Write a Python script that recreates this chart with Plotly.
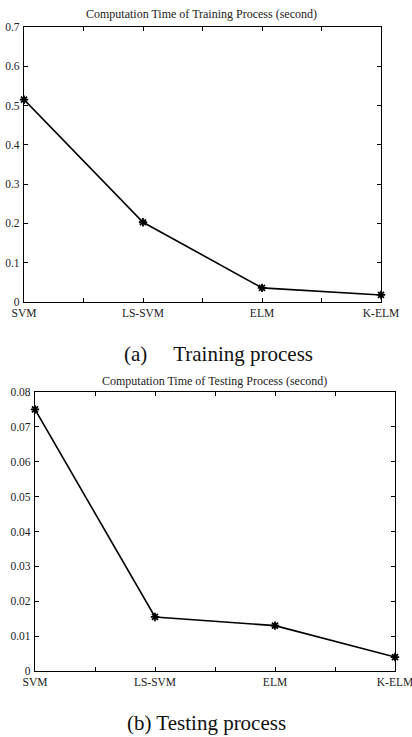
import plotly.graph_objects as go

methods = ["SVM", "LS-SVM", "ELM", "K-ELM"]
positions = [1, 2, 3, 4]
train_time = [0.515, 0.203, 0.036, 0.018]
test_time = [0.075, 0.0155, 0.013, 0.004]
train_yticks = [0, 0.1, 0.2, 0.3, 0.4, 0.5, 0.6, 0.7]
test_yticks = [0, 0.01, 0.02, 0.03, 0.04, 0.05, 0.06, 0.07, 0.08]

FONT = "Liberation Serif"
W, H = 412, 737

def px_dom_x(a, b):
    return [a / W, b / W]

def px_dom_y(top, bottom):
    return [1 - bottom / H, 1 - top / H]

fig = go.Figure()
line = dict(color="black", width=1.6)
marker = dict(symbol="asterisk-open", size=7, color="black", line=dict(color="black", width=1.8))

fig.add_trace(go.Scatter(x=positions, y=train_time, mode="lines+markers",
                         line=line, marker=marker, xaxis="x", yaxis="y", showlegend=False,
                         cliponaxis=False))
fig.add_trace(go.Scatter(x=positions, y=test_time, mode="lines+markers",
                         line=line, marker=marker, xaxis="x2", yaxis="y2", showlegend=False,
                         cliponaxis=False))

xcommon = dict(range=[1, 4], tickvals=[1, 1.5, 2, 2.5, 3, 3.5, 4],
               ticktext=["SVM", "", "LS-SVM", "", "ELM", "", "K-ELM"],
               ticks="inside", ticklen=4, tickcolor="black", showline=True,
               linecolor="black", linewidth=1.3, mirror="ticks", showgrid=False,
               zeroline=False, automargin=False, ticklabelstandoff=0,
               ticklabeloverflow="allow",
               tickfont=dict(family=FONT, size=11.5, color="#222"))
ycommon = dict(ticks="inside", ticklen=4, tickcolor="black", showline=True,
               linecolor="black", linewidth=1.3, mirror="ticks", showgrid=False,
               zeroline=False, automargin=False, ticklabelstandoff=1,
               ticklabeloverflow="allow",
               tickfont=dict(family=FONT, size=11.5, color="#222"))

def note(text, xc, yc, size, color):
    return dict(text=text, x=xc / W, y=1 - yc / H, xref="paper", yref="paper",
                xanchor="center", yanchor="middle", showarrow=False,
                font=dict(family=FONT, size=size, color=color))

fig.update_layout(
    width=W, height=H,
    margin=dict(l=0, r=0, t=0, b=0, autoexpand=False),
    paper_bgcolor="white", plot_bgcolor="white",
    xaxis=dict(domain=px_dom_x(24, 381), anchor="y", **xcommon),
    yaxis=dict(domain=px_dom_y(27, 302), anchor="x", range=[0, 0.7],
               tickvals=train_yticks, ticktext=[str(v) for v in train_yticks], **ycommon),
    xaxis2=dict(domain=px_dom_x(35, 395), anchor="y2", **xcommon),
    yaxis2=dict(domain=px_dom_y(392, 671), anchor="x2", range=[0, 0.08],
                tickvals=test_yticks, ticktext=[str(v) for v in test_yticks], **ycommon),
    annotations=[
        note("Computation Time of Training Process (second)", 201, 14, 12, "#222"),
        note("(a)     Training process", 218, 354, 21, "#111"),
        note("Computation Time of Testing Process (second)", 214, 381, 12, "#222"),
        note("(b) Testing process", 206, 723, 21, "#111"),
    ],
)

fig.write_html("out.html", config={"displayModeBar": False},
               post_script="document.body.style.margin='0';document.body.style.overflow='hidden';")
